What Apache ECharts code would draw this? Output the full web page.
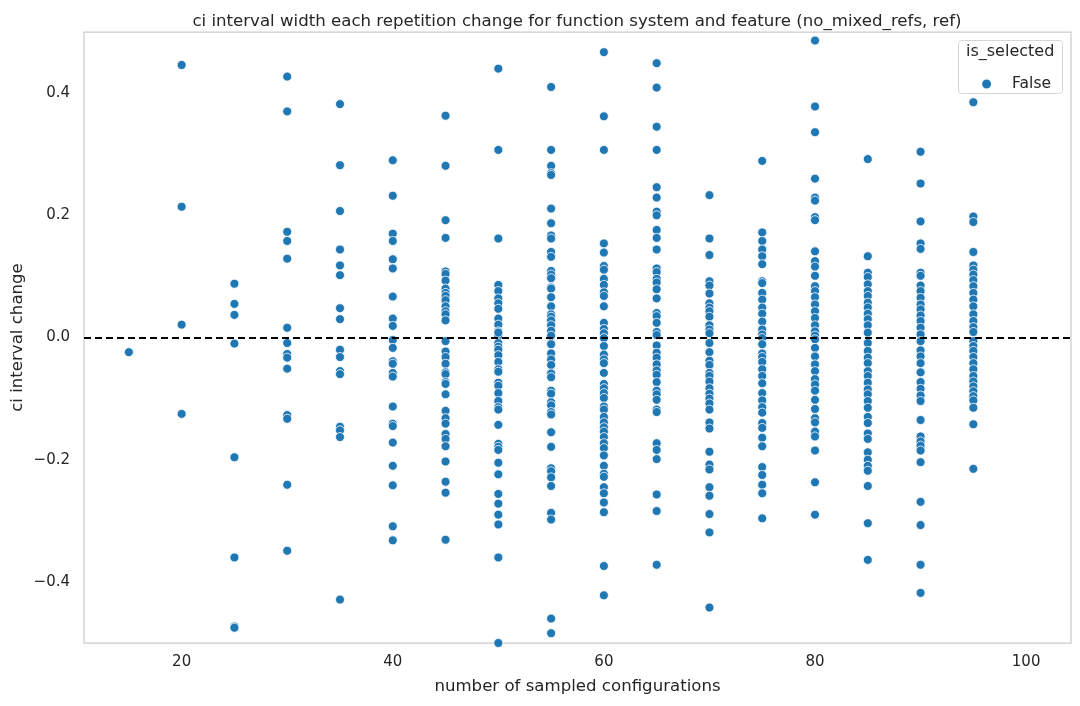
<!DOCTYPE html>
<html>
  <head>
    <title>ci interval change</title>
    <meta charset="utf-8" />
    <script src="https://cdn.jsdelivr.net/npm/echarts@6/dist/echarts.min.js"></script>
    <style>
      body { margin: 0; background: #fff; }
    </style>
  </head>
  <body>
    <div id="main" style="width: 1080px;height:706px;"></div>
    <script type="text/javascript">
    // ci interval change values read per number of sampled configurations
    var v15 = [-0.024];
    var v20 = [0.446, 0.214, 0.021, -0.125];
    var v25 = [0.088, 0.055, 0.037, -0.010, -0.196, -0.360, -0.473, -0.475];
    var v30 = [0.427, 0.370, 0.173, 0.158, 0.129, 0.016, -0.009, -0.027, -0.033, -0.051, -0.127, -0.133, -0.241, -0.349];
    var v35 = [0.382, 0.282, 0.207, 0.144, 0.118, 0.102, 0.048, 0.030, -0.020, -0.032, -0.055, -0.060, -0.146, -0.152, -0.163, -0.429];
    var v40 = [0.290, 0.232, 0.170, 0.158, 0.128, 0.113, 0.067, 0.031, 0.019, -0.004, -0.017, -0.039, -0.043, -0.058, -0.064, -0.113, -0.141, -0.145, -0.172, -0.210, -0.242, -0.309, -0.332];
    var v45 = [0.363, 0.281, 0.192, 0.163, 0.108, 0.104, 0.093, 0.080, 0.073, 0.068, 0.061, 0.051, 0.043, 0.038, 0.028, -0.006, -0.023, -0.032, -0.043, -0.057, -0.060, -0.073, -0.076, -0.093, -0.120, -0.132, -0.141, -0.158, -0.166, -0.178, -0.203, -0.236, -0.254, -0.331];
    var v50 = [0.440, 0.307, 0.162, 0.086, 0.076, 0.064, 0.056, 0.047, 0.031, 0.021, 0.010, 0.003, 0.008, -0.009, -0.015, -0.020, -0.029, -0.040, -0.052, -0.056, -0.074, -0.079, -0.091, -0.104, -0.114, -0.118, -0.143, -0.174, -0.179, -0.184, -0.205, -0.224, -0.256, -0.272, -0.290, -0.306, -0.360, -0.500];
    var v55 = [0.410, 0.307, 0.281, 0.269, 0.266, 0.211, 0.187, 0.167, 0.162, 0.140, 0.132, 0.109, 0.103, 0.097, 0.082, 0.080, 0.066, 0.051, 0.038, 0.034, 0.028, 0.020, 0.011, 0.003, -0.009, -0.011, -0.026, -0.036, -0.045, -0.059, -0.065, -0.087, -0.092, -0.106, -0.111, -0.122, -0.126, -0.155, -0.179, -0.214, -0.219, -0.229, -0.243, -0.287, -0.298, -0.460, -0.484];
    var v60 = [0.467, 0.362, 0.307, 0.154, 0.139, 0.117, 0.111, 0.096, 0.086, 0.074, 0.068, 0.051, 0.024, 0.014, 0.007, -0.001, -0.014, -0.028, -0.036, -0.042, -0.058, -0.076, -0.083, -0.091, -0.099, -0.113, -0.118, -0.130, -0.139, -0.147, -0.154, -0.163, -0.173, -0.181, -0.193, -0.210, -0.223, -0.228, -0.245, -0.255, -0.270, -0.286, -0.374, -0.422];
    var v65 = [0.449, 0.409, 0.345, 0.307, 0.246, 0.229, 0.206, 0.200, 0.176, 0.163, 0.144, 0.113, 0.107, 0.096, 0.090, 0.079, 0.064, 0.040, 0.035, 0.024, 0.009, 0.004, -0.013, -0.025, -0.033, -0.044, -0.054, -0.061, -0.073, -0.087, -0.093, -0.102, -0.118, -0.122, -0.173, -0.184, -0.199, -0.257, -0.284, -0.372];
    var v70 = [0.233, 0.162, 0.135, 0.092, 0.085, 0.072, 0.056, 0.049, 0.043, 0.034, 0.020, 0.013, 0.007, -0.009, -0.024, -0.038, -0.045, -0.058, -0.063, -0.072, -0.083, -0.092, -0.100, -0.108, -0.118, -0.139, -0.149, -0.187, -0.208, -0.216, -0.245, -0.259, -0.289, -0.319, -0.442];
    var v75 = [0.289, 0.172, 0.158, 0.144, 0.133, 0.120, 0.092, 0.089, 0.073, 0.062, 0.049, 0.039, 0.026, 0.013, 0.005, -0.001, -0.011, -0.026, -0.032, -0.040, -0.052, -0.063, -0.075, -0.091, -0.103, -0.114, -0.123, -0.140, -0.148, -0.164, -0.178, -0.212, -0.225, -0.241, -0.255, -0.296];
    var v80 = [0.486, 0.378, 0.336, 0.260, 0.229, 0.224, 0.197, 0.192, 0.141, 0.125, 0.116, 0.101, 0.084, 0.076, 0.066, 0.054, 0.043, 0.032, 0.020, 0.010, 0.003, -0.003, -0.017, -0.031, -0.044, -0.055, -0.068, -0.077, -0.087, -0.102, -0.117, -0.132, -0.139, -0.154, -0.162, -0.185, -0.237, -0.290];
    var v85 = [0.292, 0.133, 0.106, 0.099, 0.087, 0.076, 0.068, 0.057, 0.049, 0.039, 0.030, 0.020, 0.008, -0.009, -0.022, -0.033, -0.042, -0.055, -0.063, -0.074, -0.085, -0.093, -0.104, -0.115, -0.130, -0.140, -0.157, -0.166, -0.188, -0.200, -0.210, -0.218, -0.243, -0.304, -0.364];
    var v90 = [0.304, 0.252, 0.190, 0.154, 0.145, 0.106, 0.101, 0.085, 0.076, 0.065, 0.054, 0.046, 0.036, 0.027, 0.016, 0.005, -0.006, -0.021, -0.031, -0.042, -0.057, -0.073, -0.084, -0.095, -0.104, -0.135, -0.162, -0.170, -0.177, -0.185, -0.204, -0.269, -0.307, -0.372, -0.418];
    var v95 = [0.385, 0.198, 0.189, 0.140, 0.118, 0.111, 0.103, 0.094, 0.084, 0.073, 0.062, 0.051, 0.038, 0.027, 0.017, 0.009, -0.006, -0.014, -0.022, -0.032, -0.042, -0.052, -0.063, -0.072, -0.080, -0.088, -0.096, -0.103, -0.115, -0.142, -0.215];

    var configCounts = [15, 20, 25, 30, 35, 40, 45, 50, 55, 60, 65, 70, 75, 80, 85, 90, 95];
    var columns = [v15, v20, v25, v30, v35, v40, v45, v50, v55, v60, v65, v70, v75, v80, v85, v90, v95];
    var xTicks = [20, 40, 60, 80, 100];
    var yTicks = [-0.4, -0.2, 0.0, 0.2, 0.4];

    // flatten into [x, y] pairs for the scatter
    var points = [];
    for (var i = 0; i < configCounts.length; i++) {
      for (var j = 0; j < columns[i].length; j++) {
        points.push([configCounts[i], columns[i][j]]);
      }
    }

    var font = 'DejaVu Sans';
    var textColor = '#262626';

    var myChart = echarts.init(document.getElementById('main'));

    var option = {
      animation: false,
      backgroundColor: '#ffffff',
      textStyle: { fontFamily: font },
      title: {
        text: 'ci interval width each repetition change for function system and feature (no_mixed_refs, ref)',
        left: 572,
        textAlign: 'center',
        top: 8,
        z: 10,
        textStyle: { fontFamily: font, fontSize: 16.6, fontWeight: 'normal', color: textColor }
      },
      grid: {
        left: 84, right: 9, top: 32, bottom: 63,
        outerBoundsMode: 'none',
        containLabel: false,
        show: true, borderColor: '#cccccc', borderWidth: 1.25
      },
      legend: {
        data: [{ name: 'False', icon: 'circle' }],
        right: 24,
        top: 71,
        z: 100,
        itemWidth: 11,
        itemHeight: 11,
        itemGap: 6,
        textStyle: { fontFamily: font, fontSize: 15.5, color: textColor, padding: [0, 0, 0, 15] }
      },
      graphic: [
        {
          type: 'rect',
          right: 17, top: 40,
          shape: { width: 104, height: 53, r: 3 },
          style: { fill: 'rgba(255,255,255,0.8)', stroke: '#d6d6d6', lineWidth: 1 },
          z: 50
        },
        {
          type: 'text',
          left: 966, top: 44,
          style: { text: 'is_selected', font: '16px DejaVu Sans', fill: textColor },
          z: 100
        }
      ],
      xAxis: {
        type: 'value',
        min: 10.75,
        max: 104.25,
        name: 'number of sampled configurations',
        nameLocation: 'middle',
        nameGap: 35,
        nameMoveOverlap: false,
        nameTextStyle: { fontFamily: font, fontSize: 16.6, color: textColor },
        splitLine: { show: false },
        axisLine: { show: false },
        axisTick: { show: false },
        axisLabel: {
          customValues: xTicks,
          margin: 12,
          fontFamily: font, fontSize: 15, color: textColor
        }
      },
      yAxis: {
        type: 'value',
        min: -0.5,
        max: 0.5,
        name: 'ci interval change',
        nameLocation: 'middle',
        nameGap: 58,
        nameMoveOverlap: false,
        nameTextStyle: { fontFamily: font, fontSize: 16.6, color: textColor },
        splitLine: { show: false },
        axisLine: { show: false },
        axisTick: { show: false },
        axisLabel: {
          customValues: yTicks,
          margin: 14,
          fontFamily: font, fontSize: 15, color: textColor,
          formatter: function (v) {
            return (v < 0 ? '\u2212' : '') + Math.abs(v).toFixed(1);
          }
        }
      },
      series: [
        {
          name: 'False',
          type: 'scatter',
          data: points,
          symbolSize: 9,
          itemStyle: { color: '#1f77b4', borderColor: '#ffffff', borderWidth: 0.8, opacity: 1 },
          markLine: {
            silent: true,
            symbol: ['none', 'none'],
            label: { show: false },
            lineStyle: { color: '#000000', type: [7, 4], width: 1.8, opacity: 1 },
            data: [{ yAxis: 0 }]
          }
        }
      ]
    };

    myChart.setOption(option);
    </script>
  </body>
</html>
